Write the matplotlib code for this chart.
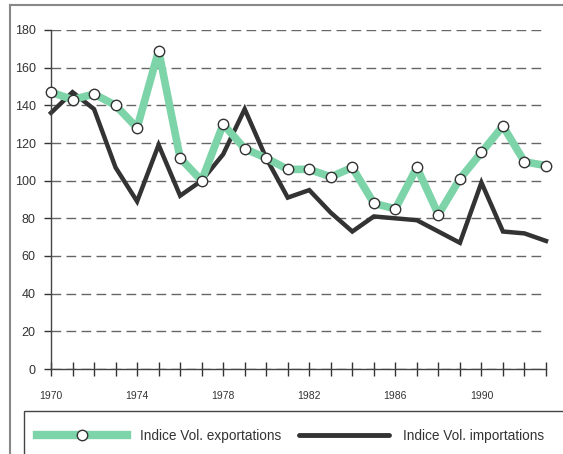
import matplotlib
matplotlib.use("Agg")
import matplotlib.pyplot as plt
from matplotlib.patches import Rectangle
from matplotlib.lines import Line2D

plt.rcParams['font.family'] = ['Liberation Sans', 'DejaVu Sans']

# data
years = list(range(1970, 1994))
exports = [147, 143, 146, 140, 128, 169, 112, 100, 130, 117, 112, 106,
           106, 102, 107, 88, 85, 107, 82, 101, 115, 129, 110, 108]
imports = [136, 147, 138, 107, 89, 119, 92, 100, 114, 138, 112, 91,
           95, 83, 73, 81, 80, 79, 73, 67, 99, 73, 72, 68]
year_labels = [1970, 1974, 1978, 1982, 1986, 1990]
y_ticks = list(range(0, 181, 20))

W, H = 563, 454
fig = plt.figure(figsize=(W / 100, H / 100), dpi=100)
ax = fig.add_axes([51 / W, 1 - 369 / H, (546 - 51) / W, (369 - 30) / H])

green = '#7dd4a8'
dark = '#333333'

ax.plot(years, exports, color=green, linewidth=5.5, solid_joinstyle='round',
        marker='o', markersize=7.5, markerfacecolor='white',
        markeredgecolor='#333333', markeredgewidth=1.0, zorder=3, clip_on=False)
ax.plot(years, imports, color=dark, linewidth=3.2, solid_joinstyle='miter',
        zorder=2, clip_on=False)

ax.set_xlim(1970, 1993)
ax.set_ylim(0, 180)
ax.set_xticks(years)
ax.set_xticklabels([str(y) if y in year_labels else '' for y in years])
ax.set_yticks(y_ticks)

for s in ['top', 'right']:
    ax.spines[s].set_visible(False)
for s in ['left', 'bottom']:
    ax.spines[s].set_color('#444444')
    ax.spines[s].set_linewidth(1.0)

ax.tick_params(axis='y', direction='out', length=5, width=1, pad=6,
               labelsize=9, colors='#333333')
ax.tick_params(axis='x', direction='inout', length=10, width=1, pad=11,
               labelsize=7.5, colors='#333333')

ax.yaxis.grid(True, linestyle=(0, (7, 3.8)), color='#666666', linewidth=1.0)
ax.set_axisbelow(True)

# outer frame and legend box
fig.add_artist(Line2D([10 / W, 10 / W], [0, 1 - 5 / H], transform=fig.transFigure,
                      color='#888888', linewidth=1.5))
fig.add_artist(Line2D([10 / W, 1], [1 - 5 / H, 1 - 5 / H], transform=fig.transFigure,
                      color='#888888', linewidth=1.5))
fig.add_artist(Rectangle((24 / W, -0.1), 1, (H - 411) / H + 0.1, transform=fig.transFigure,
                         fill=False, edgecolor='#444444', linewidth=1.0))

h1 = Line2D([], [], color=green, linewidth=6, marker='o', markersize=7.5,
            markerfacecolor='white', markeredgecolor='#333333', markevery=[0],
            markeredgewidth=1.0)
h2 = Line2D([], [], color=dark, linewidth=3.5, solid_capstyle='round')
leg = fig.legend([h1, h2], ['Indice Vol. exportations', 'Indice Vol. importations'],
                 loc='center left', bbox_to_anchor=(37 / W, 1 - 436 / H), ncol=2,
                 frameon=False, fontsize=9.8, handlelength=6.6, handletextpad=1.0,
                 columnspacing=1.3, borderaxespad=0, borderpad=0,
                 labelcolor='#333333')

fig.savefig('out.png', dpi=100)
